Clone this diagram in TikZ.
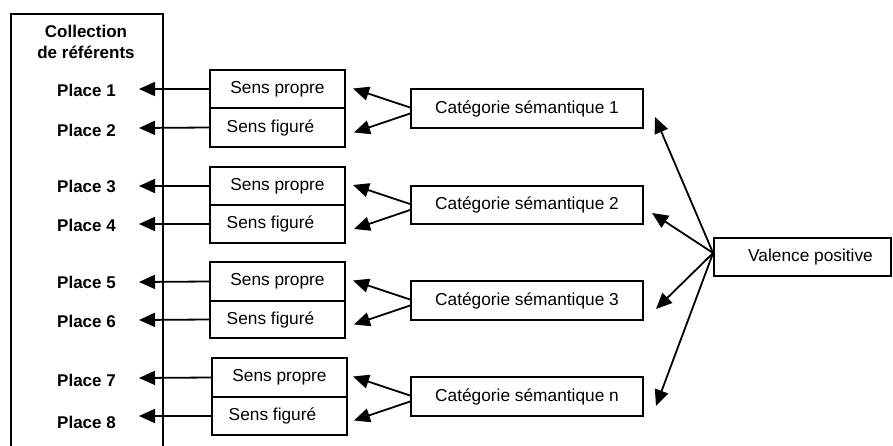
\documentclass[tikz,border=0pt]{standalone}
\usepackage{fontspec}
\setmainfont{Liberation Sans}
\usetikzlibrary{arrows.meta}
\begin{document}
\begin{tikzpicture}[x=1pt,y=-1pt,
  box/.style={draw, line width=1.8pt, inner sep=0pt, font=\fontsize{17.3}{20}\selectfont},
  arr/.style={line width=1.8pt, -{Triangle[length=16pt,width=14pt]}},
  place/.style={anchor=west, font=\fontsize{17}{20}\selectfont\bfseries, inner sep=0pt},
  title/.style={align=center, font=\fontsize{17}{20.5}\selectfont\bfseries, inner sep=0pt}]
\useasboundingbox (0,0) rectangle (893,446);
% collection box (continues below the page)
\node[box, minimum width=152pt, minimum height=500pt, anchor=north west] (refbox) at (10,13) {};
\node[title] (coll) at (86,42) {Collection\\de référents};
% places
\node[place] (p1) at (57,90) {Place 1};
\node[place] (p2) at (57,130) {Place 2};
\node[place] (p3) at (57,186) {Place 3};
\node[place] (p4) at (57,225) {Place 4};
\node[place] (p5) at (57,282) {Place 5};
\node[place] (p6) at (57,321) {Place 6};
\node[place] (p7) at (57,380) {Place 7};
\node[place] (p8) at (57,422) {Place 8};
% sens boxes
\node[box, minimum width=135pt, minimum height=38pt] (sp1) at (277.5,89) {Sens propre};
\node[box, minimum width=135pt, minimum height=39pt] (sf1) at (277.5,127.5) {Sens figuré\hspace*{14pt}};
\node[box, minimum width=135pt, minimum height=38pt] (sp2) at (277.5,186) {Sens propre};
\node[box, minimum width=135pt, minimum height=38pt] (sf2) at (277.5,224) {Sens figuré\hspace*{14pt}};
\node[box, minimum width=135pt, minimum height=39pt] (sp3) at (277.5,281.5) {Sens propre};
\node[box, minimum width=135pt, minimum height=37pt] (sf3) at (277.5,319.5) {Sens figuré\hspace*{14pt}};
\node[box, minimum width=135pt, minimum height=39pt] (sp4) at (279.5,377.5) {Sens propre};
\node[box, minimum width=135pt, minimum height=38pt] (sf4) at (279.5,416) {Sens figuré\hspace*{14pt}};
% tips at the places
\coordinate (t1) at (139,89);
\coordinate (t2) at (139,128);
\coordinate (t3) at (139,186);
\coordinate (t4) at (139,224);
\coordinate (t5) at (139,282);
\coordinate (t6) at (139,320);
\coordinate (t7) at (139,378);
\coordinate (t8) at (139,416);
\draw[arr] (sp1.west) -- (t1);
\draw[arr] (sf1.west) -- (t2);
\draw[arr] (sp2.west) -- (t3);
\draw[arr] (sf2.west) -- (t4);
\draw[arr] (sp3.west) -- (t5);
\draw[arr] (sf3.west) -- (t6);
\draw[arr] (sp4.west) -- (t7);
\draw[arr] (sf4.west) -- (t8);
% categories
\node[box, minimum width=232pt, minimum height=39pt] (c1) at (527,108.5) {Catégorie sémantique 1};
\node[box, minimum width=232pt, minimum height=38pt] (c2) at (527,205) {Catégorie sémantique 2};
\node[box, minimum width=232pt, minimum height=39pt] (c3) at (527,300.5) {Catégorie sémantique 3};
\node[box, minimum width=232pt, minimum height=39pt] (c4) at (527,396.5) {Catégorie sémantique n};
\coordinate (u1) at (353,88.5);
\coordinate (l1) at (354,132.5);
\coordinate (u2) at (353,185);
\coordinate (l2) at (354,229);
\coordinate (u3) at (353,280.5);
\coordinate (l3) at (354,324.5);
\coordinate (u4) at (353,376.5);
\coordinate (l4) at (354,420.5);
\foreach \i in {1,2,3,4}{
  \draw[arr] ([yshift=1pt]c\i.west) -- (u\i);
  \draw[arr] ([yshift=-5pt]c\i.west) -- (l\i);
}
% valence
\node[box, minimum width=177pt, minimum height=38pt] (v) at (802.5,257) {\hspace*{16pt}Valence positive};
\coordinate (v1) at (655,117);
\coordinate (v2) at (652,213);
\coordinate (v3) at (656,309);
\coordinate (v4) at (656,406);
\foreach \i in {1,2,3,4}{
  \draw[arr] ([yshift=4pt]v.west) -- (v\i);
}
\end{tikzpicture}
\end{document}
